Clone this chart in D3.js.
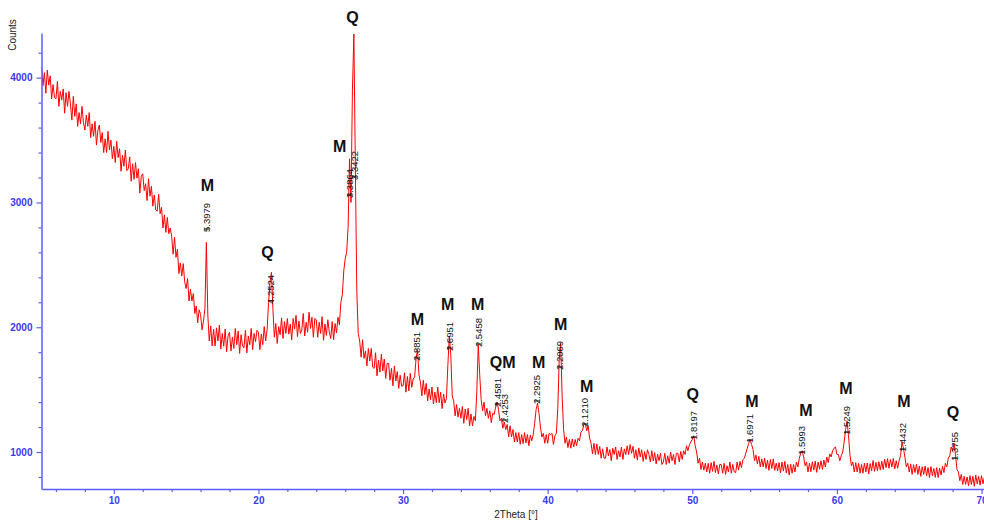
<!DOCTYPE html>
<html>
<head>
<meta charset="utf-8">
<script src="https://cdn.jsdelivr.net/npm/d3@7"></script>
<style>
body { margin: 0; background: #fff; }
svg { display: block; font-family: "Liberation Sans", Arial, sans-serif; }
</style>
</head>
<body>
<svg id="chart" width="984" height="522"></svg>
<script>
// DATA - scan grid and counts
var start2Theta = 5,
    step2Theta = 0.1;

var counts = [
  4090, 3935, 4040, 3875, 4060, 3940, 4015, 3830, 3945, 3840,
  3830, 3970, 3770, 3890, 3820, 3910, 3715, 3880, 3770, 3890,
  3790, 3660, 3850, 3690, 3790, 3610, 3720, 3630, 3770, 3640,
  3580, 3700, 3610, 3720, 3520, 3630, 3530, 3650, 3460, 3580,
  3620, 3480, 3560, 3400, 3510, 3400, 3570, 3420, 3500, 3350,
  3450, 3320, 3490, 3360, 3430, 3250, 3380, 3290, 3420, 3255,
  3270, 3365, 3170, 3310, 3185, 3320, 3195, 3270, 3075, 3210,
  3230, 3095, 3150, 3015, 3190, 3050, 3130, 2970, 3060, 2940,
  2930, 3065, 2910, 2960, 2795, 2900, 2760, 2880, 2750, 2795,
  2730, 2585, 2720, 2560, 2625, 2430, 2515, 2410, 2510, 2365,
  2310, 2390, 2210, 2305, 2210, 2270, 2110, 2170, 2035, 2140,
  2100, 1980, 2050, 2150, 2680, 2100, 1890, 2010, 1850, 1985,
  1850, 1995, 1890, 2018, 1825, 1950, 1848, 1985, 1803, 1930,
  1960, 1810, 1920, 1830, 1990, 1860, 1970, 1790, 1940, 1850,
  1835, 1975, 1795, 1930, 1860, 1990, 1820, 1950, 1885, 1975,
  1960, 1820, 1945, 1860, 2005, 1890, 1980, 2200, 2360, 2440,
  2150, 1920, 2030, 1870, 2005, 1940, 2075, 1910, 2045, 1950,
  2070, 1945, 2025, 1900, 2070, 1985, 2095, 1925, 2050, 1950,
  1980, 2110, 1930, 2040, 1960, 2120, 1990, 2080, 1920, 2070,
  2060, 1920, 2040, 1950, 2085, 1895, 2025, 1935, 2060, 1960,
  1910, 2045, 1900, 2030, 1955, 2080, 2020, 2200, 2260, 2450,
  2550, 2600, 2800, 3350, 3000, 3900, 4350, 3300, 2300, 1950,
  1890, 1760, 1900, 1750, 1810, 1690, 1830, 1730, 1830, 1680,
  1670, 1795, 1610, 1735, 1640, 1785, 1650, 1745, 1590, 1710,
  1710, 1575, 1670, 1530, 1690, 1570, 1645, 1510, 1615, 1528,
  1530, 1635, 1480, 1605, 1490, 1630, 1518, 1585, 1600, 1750,
  1820, 1620, 1560, 1450, 1575, 1460, 1550, 1410, 1505, 1420,
  1520, 1385, 1480, 1395, 1520, 1395, 1480, 1348, 1465, 1392,
  1430, 1700, 1930, 1780, 1450, 1410, 1290, 1380, 1280, 1350,
  1270, 1365, 1230, 1345, 1260, 1350, 1210, 1305, 1210, 1285,
  1250, 1480, 1860, 1620, 1420, 1330, 1400, 1290, 1350, 1270,
  1330, 1235, 1310, 1300, 1360, 1400, 1340, 1250, 1270, 1190,
  1240, 1180, 1220, 1120, 1210, 1120, 1180, 1080, 1155, 1080,
  1155, 1062, 1140, 1068, 1155, 1073, 1140, 1050, 1135, 1090,
  1140, 1230, 1340, 1390, 1310, 1200, 1120, 1150, 1070, 1140,
  1070, 1150, 1140, 1150, 1060, 1130, 1150, 1350, 1750, 1870,
  1450, 1180, 1070, 1120, 1035, 1100, 1030, 1105, 1040, 1100,
  1050, 1110, 1090, 1160, 1170, 1220, 1230, 1170, 1210, 1110,
  1070, 985, 1070, 980, 1065, 980, 1045, 950, 1025, 950,
  950, 1040, 970, 1020, 930, 1030, 980, 1040, 940, 1010,
  960, 1040, 940, 1025, 980, 1050, 980, 1060, 990, 1045,
  950, 1018, 935, 1033, 960, 1018, 925, 1003, 940, 1018,
  980, 920, 1010, 928, 995, 905, 982, 930, 990, 900,
  920, 990, 900, 970, 910, 1000, 930, 980, 900, 990,
  990, 920, 1005, 940, 1010, 980, 1050, 1010, 1060, 1080,
  1100, 1130, 1050, 1000, 910, 950, 860, 920, 855, 910,
  840, 910, 830, 915, 845, 925, 835, 895, 825, 900,
  900, 830, 910, 820, 890, 840, 920, 830, 900, 840,
  835, 920, 855, 925, 875, 940, 950, 990, 1030, 1070,
  1100, 1060, 1020, 930, 975, 905, 965, 880, 945, 880,
  950, 868, 935, 853, 940, 868, 945, 853, 910, 848,
  915, 833, 920, 847, 925, 832, 900, 815, 902, 830,
  900, 840, 920, 880, 950, 990, 1010, 960, 890, 920,
  840, 910, 842, 922, 855, 927, 837, 920, 862, 930,
  860, 935, 880, 960, 915, 985, 960, 1010, 1030, 1040,
  980, 980, 930, 970, 1000, 1080, 1180, 1250, 1130, 980,
  890, 920, 840, 915, 840, 910, 830, 900, 830, 910,
  840, 912, 825, 907, 850, 932, 845, 917, 850, 922,
  855, 927, 860, 942, 875, 947, 870, 940, 880, 948,
  865, 930, 870, 930, 970, 1080, 1030, 960, 880, 910,
  840, 905, 820, 898, 835, 902, 820, 888, 805, 882,
  820, 888, 808, 876, 795, 883, 810, 868, 797, 875,
  795, 870, 815, 885, 835, 910, 880, 950, 970, 1040,
  1010, 1070, 980, 860, 840, 770, 820, 740, 805, 740,
  800, 730, 810, 740, 805, 725, 815, 745, 805, 735,
  810, 745, 800
];

// peak d-spacings (Angstrom) and the count level where each label starts
var dSpacing = ["5.3979", "4.2524", "3.3864", "3.3422", "2.8851", "2.6951",
                "2.5458", "2.4581", "2.4253", "2.2925", "2.2069", "2.1210",
                "1.8197", "1.6971", "1.5993", "1.5249", "1.4432", "1.3755"];
var dLevel = [2763, 2186, 3035, 3180, 1729, 1809, 1841, 1361, 1232,
              1385, 1657, 1200, 1096, 1072, 976, 1136, 1000, 928];

// phase letters (M / Q)
var phaseText = ["M", "Q", "M", "Q", "M", "M", "M", "QM", "M",
                 "M", "M", "Q", "M", "M", "M", "M", "Q"];
var phase2Theta = [16.47, 20.62, 25.61, 26.51, 31.00, 33.08, 35.16, 36.89, 39.38,
                   40.90, 42.70, 50.03, 54.12, 57.86, 60.62, 64.64, 68.03];
var phaseLevel = [3139, 2603, 3452, 4486, 2066, 2186, 2186, 1721, 1721,
                  2026, 1529, 1465, 1409, 1337, 1513, 1409, 1321];

var majorX = [10, 20, 30, 40, 50, 60, 70];
var majorY = [1000, 2000, 3000, 4000];

var wavelength = 1.5406; // Cu K-alpha1

// SETUP
var width = 984,
    height = 522;
var plotLeft = 41.5, plotBottom = 489, plotTop = 33;

var axisBlue = "#5c5cff",
    labelBlue = "#3a3af2";

var svg = d3.select("#chart");

var x = d3.scaleLinear().domain([5, 70.17]).range([plotLeft, width]);
var y = d3.scaleLinear().domain([703.5, 4358]).range([plotBottom, plotTop]);

function braggAngle(d) {
  return 2 * Math.asin(wavelength / (2 * d)) * 180 / Math.PI;
}

svg.append("clipPath").attr("id", "plot")
  .append("rect")
    .attr("x", plotLeft).attr("y", 0)
    .attr("width", width - plotLeft).attr("height", plotBottom);

// PATTERN
var line = d3.line()
    .x(function(d, i) { return x(start2Theta + i * step2Theta); })
    .y(function(d) { return y(d); });

svg.append("path")
    .datum(counts)
    .attr("clip-path", "url(#plot)")
    .attr("fill", "none")
    .attr("stroke", "#ff0000")
    .attr("stroke-width", 1)
    .attr("stroke-linejoin", "round")
    .attr("d", line);

// AXES
var minorX = d3.range(6, 70, 2).filter(function(v) { return v % 10 != 0; });
var minorY = d3.range(800, 4300, 200).filter(function(v) { return v % 1000 != 0; });

svg.append("g")
    .attr("transform", "translate(0," + plotBottom + ")")
    .call(d3.axisBottom(x).tickValues(minorX).tickSize(3).tickSizeOuter(0).tickFormat(""))
    .call(function(g) { g.select(".domain").remove(); });

var gx = svg.append("g")
    .attr("transform", "translate(0," + plotBottom + ")")
    .call(d3.axisBottom(x).tickValues(majorX).tickSize(5).tickSizeOuter(0).tickPadding(3));

svg.append("g")
    .attr("transform", "translate(" + plotLeft + ",0)")
    .call(d3.axisLeft(y).tickValues(minorY).tickSize(3).tickSizeOuter(0).tickFormat(""))
    .call(function(g) { g.select(".domain").remove(); });

var gy = svg.append("g")
    .attr("transform", "translate(" + plotLeft + ",0)")
    .call(d3.axisLeft(y).tickValues(majorY).tickSize(5).tickSizeOuter(0).tickPadding(4)
      .tickFormat(d3.format("d")));

svg.selectAll(".tick line").attr("stroke", axisBlue).attr("stroke-width", 1.2);
svg.selectAll(".domain").attr("stroke", axisBlue).attr("stroke-width", 1.5);
svg.selectAll(".tick text")
    .attr("fill", labelBlue)
    .style("font-size", "10px")
    .style("font-weight", "bold")
    .style("font-family", "'Liberation Sans', Arial, sans-serif");

// axis titles
svg.append("text")
    .attr("transform", "translate(16,35) rotate(-90)")
    .attr("text-anchor", "middle")
    .style("font-size", "10px")
    .attr("fill", "#222")
    .text("Counts");

svg.append("text")
    .attr("x", 516)
    .attr("y", 518)
    .attr("text-anchor", "middle")
    .style("font-size", "10px")
    .attr("fill", "#222")
    .text("2Theta [°]");

// PEAK LABELS
var peaks = dSpacing.map(function(d, i) {
  return {label: d, pos: braggAngle(+d), level: dLevel[i]};
});

svg.selectAll(".dmark")
    .data(peaks)
  .enter().append("line")
    .attr("class", "dmark")
    .attr("x1", function(d) { return x(d.pos) - 2.5; })
    .attr("x2", function(d) { return x(d.pos) + 2.5; })
    .attr("y1", function(d) { return y(d.level) - 3; })
    .attr("y2", function(d) { return y(d.level) - 3; })
    .attr("stroke", "#111")
    .attr("stroke-width", 1);

svg.selectAll(".dlabel")
    .data(peaks)
  .enter().append("text")
    .attr("class", "dlabel")
    .attr("transform", function(d) {
      return "translate(" + x(d.pos) + "," + y(d.level) + ") rotate(-90)";
    })
    .attr("dy", "0.35em")
    .style("font-size", "9.5px")
    .attr("fill", "#111")
    .text(function(d) { return d.label; });

svg.selectAll(".phase")
    .data(phaseText)
  .enter().append("text")
    .attr("class", "phase")
    .attr("x", function(d, i) { return x(phase2Theta[i]); })
    .attr("y", function(d, i) { return y(phaseLevel[i]); })
    .attr("dy", "0.36em")
    .attr("text-anchor", "middle")
    .style("font-size", "16px")
    .style("font-weight", "bold")
    .attr("fill", "#111")
    .text(function(d) { return d; });
</script>
</body>
</html>
